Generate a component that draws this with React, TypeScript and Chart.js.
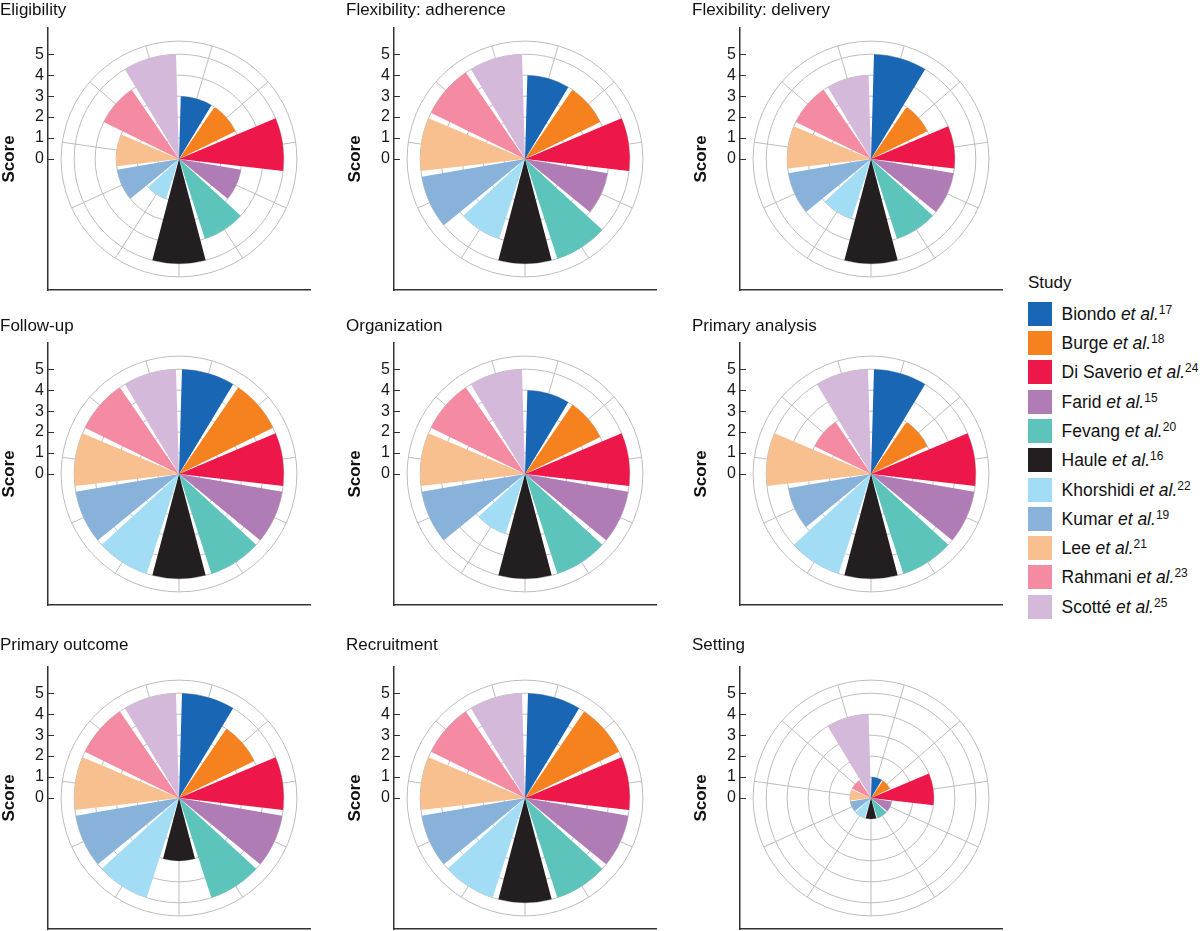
import React, { useEffect, useRef } from "react";
import { Chart, registerables } from "chart.js";

Chart.register(...registerables);

const FONT = "'Liberation Sans', Arial, Helvetica, sans-serif";
Chart.defaults.font.family = FONT;

// ---------- data ----------
const studies = [
  "Biondo", "Burge", "Di Saverio", "Farid", "Fevang", "Haule",
  "Khorshidi", "Kumar", "Lee", "Rahmani", "Scotté",
];
const refNumbers = ["17", "18", "24", "15", "20", "16", "22", "19", "21", "23", "25"];
const studyColors = [
  "#1866b4", "#f5821f", "#ed1849", "#b07cb6", "#5dc4bc", "#231f20",
  "#a3dcf5", "#88b2da", "#f9c08f", "#f48ba2", "#d5b9da",
];

const domainTitles = [
  "Eligibility", "Flexibility: adherence", "Flexibility: delivery",
  "Follow-up", "Organization", "Primary analysis",
  "Primary outcome", "Recruitment", "Setting",
];

const eligibility = [3, 3, 5, 3, 4, 5, 2, 3, 3, 4, 5];
const flexibilityAdherence = [4, 4, 5, 4, 5, 5, 4, 5, 5, 5, 5];
const flexibilityDelivery = [5, 3, 4, 4, 4, 5, 3, 4, 4, 4, 4];
const followUp = [5, 5, 5, 5, 5, 5, 5, 5, 5, 5, 5];
const organization = [4, 4, 5, 5, 5, 5, 3, 5, 5, 5, 5];
const primaryAnalysis = [5, 3, 5, 5, 5, 5, 5, 4, 5, 3, 5];
const primaryOutcome = [5, 4, 5, 5, 5, 3, 5, 5, 5, 5, 5];
const recruitment = [5, 5, 5, 5, 5, 5, 5, 5, 5, 5, 5];
const setting = [1, 1, 3, 1, 1, 1, 1, 1, 1, 1, 4];

const domainScores = [
  eligibility, flexibilityAdherence, flexibilityDelivery,
  followUp, organization, primaryAnalysis,
  primaryOutcome, recruitment, setting,
];

const scoreTicks = [0, 1, 2, 3, 4, 5];
const ringValues = [0, 1, 2, 3, 4, 5, 5.625];
const OUTER_RING = 5.625;
const R_MAX = 6.25;

// bars fill 90% of each angular slot (gap slots hold no value)
const BAR_WIDTH = 0.9;
const SLOT_DEG = 360 / studies.length;
const BAR_DEG = SLOT_DEG * BAR_WIDTH;
const GAP_DEG = SLOT_DEG - BAR_DEG;

// ---------- styling / layout ----------
const GRID = "#bdbdbd";
const AXIS = "#333333";
const CANVAS_W = 312;
const colLeft = [0, 346, 692];
const rowLayout = [
  { top: 0, padTop: 0, padBottom: 7.6, height: 292 },
  { top: 316, padTop: 0, padBottom: 6.6, height: 291 },
  { top: 634, padTop: 1, padBottom: 11.6, height: 297 },
];

const spokePlugin = {
  id: "spokes",
  beforeDatasetsDraw(chart: any) {
    const r = chart.scales.r;
    const ctx = chart.ctx;
    const arcs = chart.getDatasetMeta(0).data;
    const R = r.getDistanceFromCenterForValue(OUTER_RING);
    ctx.save();
    ctx.strokeStyle = GRID;
    ctx.lineWidth = 1;
    for (let k = 0; k < arcs.length; k += 2) {
      const a = (arcs[k].startAngle + arcs[k].endAngle) / 2;
      ctx.beginPath();
      ctx.moveTo(r.xCenter, r.yCenter);
      ctx.lineTo(r.xCenter + R * Math.cos(a), r.yCenter + R * Math.sin(a));
      ctx.stroke();
    }
    ctx.restore();
  },
};

function Panel({ title, scores, left, row }: { title: string; scores: number[]; left: number; row: any }) {
  const ref = useRef<HTMLCanvasElement>(null);
  useEffect(() => {
    const slotLabels = studies.flatMap((s) => [s, ""]);
    const slotValues = scores.flatMap((v) => [v, 0]);
    const slotColors = studyColors.flatMap((c) => [c, "rgba(0,0,0,0)"]);
    const slotAngles = studies.flatMap(() => [BAR_DEG, GAP_DEG]);
    const chart = new Chart(ref.current as HTMLCanvasElement, {
      type: "polarArea",
      data: {
        labels: slotLabels,
        datasets: [
          {
            data: slotValues,
            backgroundColor: slotColors,
            angle: slotAngles,
            borderWidth: 0,
          } as any,
        ],
      },
      options: {
        responsive: false,
        animation: false,
        events: [],
        layout: { padding: { left: 0, right: 2, top: 0, bottom: 1 } },
        plugins: {
          legend: { display: false },
          tooltip: { enabled: false },
          title: {
            display: true,
            text: title,
            align: "start",
            color: "#111111",
            font: { size: 17, weight: "normal", family: FONT },
            padding: { top: row.padTop, bottom: row.padBottom },
          },
        },
        scales: {
          r: {
            min: 0,
            max: R_MAX,
            startAngle: GAP_DEG / 2,
            afterBuildTicks: (s: any) => {
              s.ticks = ringValues.map((v) => ({ value: v }));
            },
            ticks: { display: false },
            grid: { display: true, circular: true, color: GRID, lineWidth: 1 },
            angleLines: { display: false },
            pointLabels: { display: false },
          },
          x: {
            type: "linear",
            position: "bottom",
            min: 0,
            max: 1,
            ticks: { display: false },
            grid: { display: false, drawTicks: false },
            border: { display: true, color: AXIS, width: 1.5 },
            afterFit: (s: any) => {
              s.height = 1;
              s.paddingLeft = 0;
              s.paddingRight = 0;
            },
          },
          y: {
            type: "linear",
            position: "left",
            min: -R_MAX,
            max: R_MAX,
            afterBuildTicks: (s: any) => {
              s.ticks = scoreTicks.map((v) => ({ value: v }));
            },
            afterFit: (s: any) => {
              s.width = 48;
              s.paddingTop = 0;
              s.paddingBottom = 0;
            },
            ticks: { color: "#1a1a1a", font: { size: 16, family: FONT }, padding: 10, autoSkip: false },
            grid: {
              display: true,
              drawOnChartArea: false,
              drawTicks: true,
              tickLength: -6,
              color: AXIS,
              lineWidth: 1,
            },
            border: { display: true, color: AXIS, width: 1.5 },
            title: {
              display: true,
              text: "Score",
              color: "#111111",
              font: { size: 17, weight: "bold", family: FONT },
              padding: { top: -0.8, bottom: 0 },
            },
          },
        } as any,
      },
      plugins: [spokePlugin],
    });
    return () => chart.destroy();
  }, [title, scores, row]);
  return (
    <canvas
      ref={ref}
      width={CANVAS_W}
      height={row.height}
      style={{ position: "absolute", left, top: row.top, width: CANVAS_W, height: row.height }}
    />
  );
}

function Legend() {
  const top0 = 301.7;
  const pitch = 29.3;
  return (
    <div style={{ position: "absolute", left: 1028, top: 0, width: 172, height: 931 }}>
      <div
        style={{
          position: "absolute",
          left: 0,
          top: 273,
          fontSize: 17,
          lineHeight: "20px",
          color: "#111",
          whiteSpace: "nowrap",
        }}
      >
        Study
      </div>
      {studies.map((s, i) => (
        <div
          key={s}
          style={{
            position: "absolute",
            left: 0,
            top: top0 + i * pitch,
            height: 24,
            display: "flex",
            alignItems: "center",
            whiteSpace: "nowrap",
          }}
        >
          <div style={{ width: 24, height: 24, background: studyColors[i], flex: "none" }} />
          <div style={{ marginLeft: 9.5, fontSize: 17.5, lineHeight: "24px", color: "#111" }}>
            {s} <i>et al.</i>
            <sup style={{ fontSize: 12, lineHeight: 0, verticalAlign: 6 }}>{refNumbers[i]}</sup>
          </div>
        </div>
      ))}
    </div>
  );
}

export default function App() {
  return (
    <div
      style={{
        position: "fixed",
        left: 0,
        top: 0,
        width: 1200,
        height: 931,
        overflow: "hidden",
        background: "#ffffff",
        fontFamily: FONT,
      }}
    >
      {domainTitles.map((t, i) => (
        <Panel
          key={t}
          title={t}
          scores={domainScores[i]}
          left={colLeft[i % 3]}
          row={rowLayout[Math.floor(i / 3)]}
        />
      ))}
      <Legend />
    </div>
  );
}
